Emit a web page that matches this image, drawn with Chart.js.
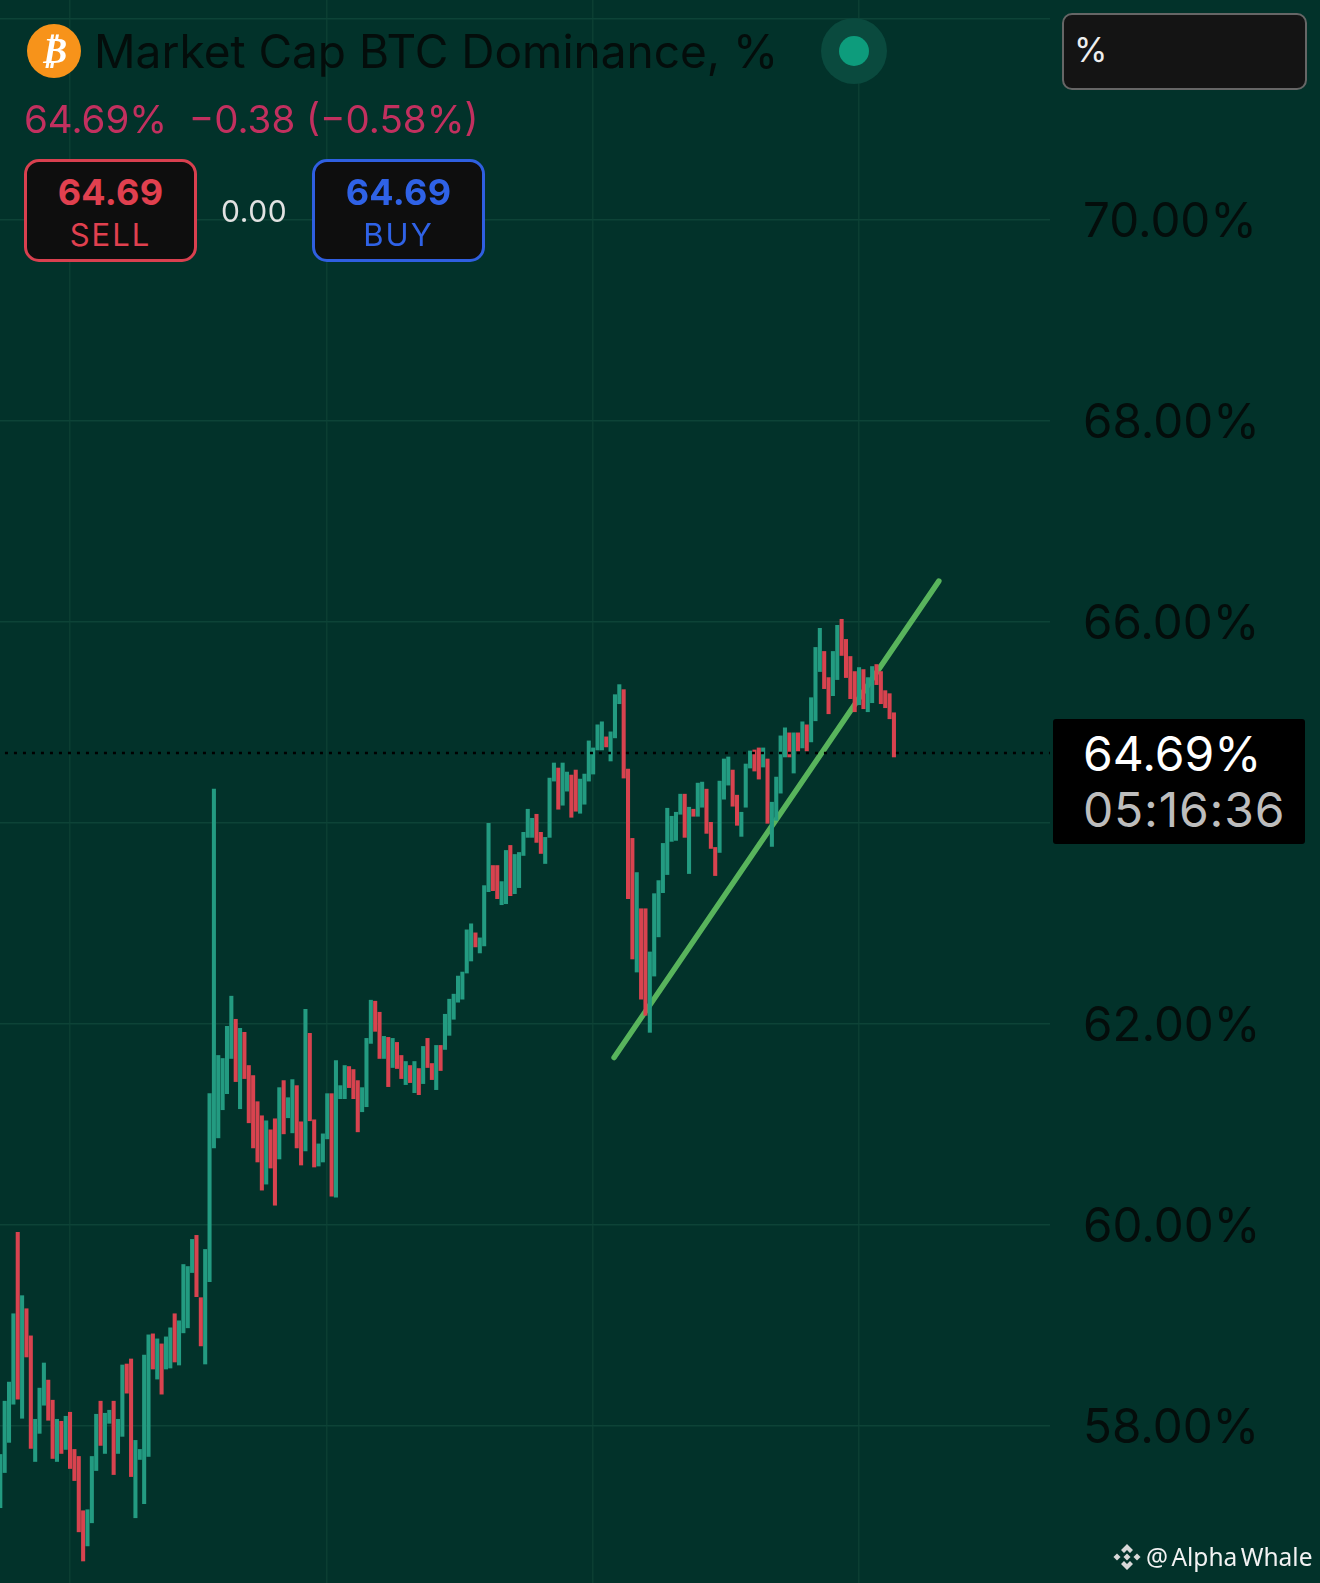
<!DOCTYPE html>
<html>
<head>
<meta charset="utf-8">
<title>Market Cap BTC Dominance</title>
<script src="https://cdn.jsdelivr.net/npm/chart.js@4"></script>
<style>
  html, body { margin: 0; padding: 0; background: #02322a; }
  #wrap { position: relative; width: 1320px; height: 1583px; overflow: hidden; font-family: Inter, "Noto Sans", sans-serif; }
  #chart { position: absolute; left: 0; top: 0; }
  .abs { position: absolute; white-space: nowrap; }
  .coin { left: 27px; top: 24px; width: 54px; height: 54px; border-radius: 50%; background: #f7931a; color: #fff; font: italic 700 36px/54px "DejaVu Sans"; text-align: center; }
  .title { left: 94px; top: 22px; font-size: 46px; line-height: 58px; color: #040d0b; }
  .change { left: 24px; top: 95px; font-size: 38.5px; line-height: 48px; color: #c2305f; }
  .halo { left: 821px; top: 18px; width: 66px; height: 66px; border-radius: 50%; background: #0a4a3e; }
  .dot { left: 839px; top: 36px; width: 30px; height: 30px; border-radius: 50%; background: #0d9c7c; }
  .trade { top: 159px; width: 167px; height: 97px; border-radius: 15px; border: 3px solid; background: #0e0e0e; text-align: center; }
  .trade b { display: block; font-size: 36px; line-height: 40px; margin-top: 10px; font-weight: 700; letter-spacing: 0.3px; }
  .trade span { display: block; font-size: 31px; line-height: 38px; margin-top: 4px; letter-spacing: 2px; }
  .sell { left: 24px; border-color: #d9404f; color: #e0404f; }
  .buy { left: 312px; border-color: #2f5fe0; color: #2f62e6; }
  .spread { left: 221px; top: 192px; font-size: 30px; line-height: 38px; color: #e2e2e2; letter-spacing: 0.6px; }
  .unit { left: 1062px; top: 13px; width: 241px; height: 73px; border: 2.5px solid #666; border-radius: 10px; background: #141414; color: #eee; font-size: 34px; line-height: 70px; }
  .unit span { margin-left: 10px; }
  .price { left: 1053px; top: 719px; width: 252px; height: 125px; background: #000; border-radius: 3px; }
  .price div { position: absolute; left: 30px; font-size: 48px; line-height: 56px; }
  .mark { left: 1146px; top: 1537px; font: 24.5px/40px "Noto Sans"; word-spacing: -3px; color: #f2f2f2; }
  .logo { left: 1113px; top: 1543px; }
</style>
</head>
<body>
<div id="wrap">
  <canvas id="chart" width="1320" height="1583"></canvas>
  <div class="abs coin">₿</div>
  <div class="abs title">Market Cap BTC Dominance, %</div>
  <div class="abs change">64.69%&nbsp; −0.38 (−0.58%)</div>
  <div class="abs halo"></div>
  <div class="abs dot"></div>
  <div class="abs trade sell"><b>64.69</b><span>SELL</span></div>
  <div class="abs spread">0.00</div>
  <div class="abs trade buy"><b>64.69</b><span>BUY</span></div>
  <div class="abs unit"><span>%</span></div>
  <div class="abs price">
    <div style="top:7px;color:#fff">64.69%</div>
    <div style="top:63px;color:#bdbdbd;letter-spacing:0.8px">05:16:36</div>
  </div>
  <svg class="abs logo" width="28" height="28" viewBox="0 0 28 28" fill="#d8d8d8">
    <path d="M14 1 L20 7 L17 10 L14 7 L11 10 L8 7 Z"/>
    <path d="M14 27 L20 21 L17 18 L14 21 L11 18 L8 21 Z"/>
    <rect x="1.5" y="11.5" width="5" height="5" transform="rotate(45 4 14)"/>
    <rect x="21.5" y="11.5" width="5" height="5" transform="rotate(45 24 14)"/>
    <rect x="11.5" y="11.5" width="5" height="5" transform="rotate(45 14 14)"/>
  </svg>
  <div class="abs mark">@ Alpha Whale</div>
</div>
<script>
// one open/close pair per bar
const barOpen = [
  57.18,57.53,57.83,58.21,59.92,58.07,59.16,58.89,57.64,57.92,
  58.20,58.45,58.25,57.64,58.04,57.76,58.13,57.76,57.69,57.15,
  56.80,57.03,57.55,58.24,57.72,58.02,58.24,57.72,57.89,58.61,
  58.66,57.08,57.66,57.22,57.69,58.91,58.46,58.81,58.56,58.57,
  59.11,58.60,58.92,58.97,59.52,59.89,59.27,58.61,59.43,60.76,
  60.86,61.14,61.30,61.65,62.04,61.15,61.91,61.58,61.48,61.22,
  61.08,60.40,60.94,61.05,60.65,61.43,61.06,60.91,61.38,61.02,
  60.73,61.90,61.04,60.58,60.62,60.85,61.30,60.27,61.25,61.25,
  61.57,61.54,61.43,61.12,61.17,61.80,62.22,62.11,61.65,61.86,
  61.56,61.81,61.68,61.39,61.58,61.31,61.55,61.40,61.85,61.60,
  61.34,61.78,61.74,61.88,62.04,62.21,62.24,62.50,62.62,62.90,
  62.70,62.77,63.31,63.57,63.57,63.18,63.19,63.77,63.29,63.35,
  63.67,63.85,63.85,64.08,63.90,63.59,63.85,64.41,64.54,64.17,
  64.31,64.47,64.52,64.09,64.18,64.41,64.48,64.72,64.72,64.85,
  64.61,64.84,65.18,65.32,64.53,63.84,62.51,63.14,63.14,61.91,
  62.47,62.86,63.30,63.48,63.81,63.82,64.08,64.28,63.49,64.13,
  64.06,64.15,64.33,64.00,63.75,63.70,64.23,64.37,64.52,64.27,
  63.86,64.15,64.54,64.72,64.74,64.55,64.63,63.76,64.02,64.29,
  64.65,64.89,64.49,64.89,64.74,64.97,64.80,65.01,65.50,65.70,
  65.44,65.26,65.42,66.02,65.82,65.65,65.50,65.17,65.52,65.10,
  65.19,65.57,65.50,65.31,65.28,65.09
];
const barClose = [
  57.71,58.24,58.43,59.11,58.26,59.29,58.68,57.77,58.06,58.37,
  58.62,58.05,57.67,58.06,57.72,58.09,57.57,57.45,56.94,56.65,
  57.16,57.69,58.11,57.80,58.12,58.15,57.51,58.06,58.60,58.32,
  57.49,57.85,57.76,58.70,58.90,58.56,58.86,58.31,58.88,58.97,
  58.63,59.04,59.60,59.58,59.85,59.28,58.79,59.75,61.30,64.33,
  61.68,61.65,61.97,62.27,61.42,61.95,61.45,61.01,60.76,60.62,
  60.34,61.03,60.56,60.19,61.36,60.90,61.26,61.44,60.76,60.59,
  62.14,61.03,60.57,60.80,60.90,61.30,60.28,61.63,61.38,61.58,
  61.36,61.25,60.92,61.36,61.85,62.23,61.92,61.65,61.87,61.37,
  61.85,61.55,61.45,61.62,61.41,61.62,61.29,61.77,61.56,61.44,
  61.78,61.53,62.09,62.24,62.29,62.47,62.51,62.93,62.99,62.76,
  62.85,63.37,63.99,63.32,63.24,63.41,63.72,63.27,63.68,63.70,
  63.90,64.13,64.04,63.80,63.69,63.85,64.44,64.59,64.13,64.59,
  64.50,64.05,64.11,64.43,64.48,64.81,64.74,64.97,65.00,64.75,
  64.90,65.27,65.37,64.44,63.24,62.64,63.50,62.24,62.08,62.71,
  63.29,63.42,63.79,64.14,64.06,64.10,64.28,63.85,64.15,64.06,
  64.39,64.40,63.89,63.74,63.47,64.41,64.63,64.65,64.16,63.97,
  64.10,64.58,64.71,64.51,64.43,64.74,63.99,64.20,64.45,64.86,
  64.94,64.65,64.89,64.71,65.00,64.71,65.24,65.74,65.93,65.33,
  65.08,65.70,65.96,65.66,65.44,65.23,65.10,65.54,65.13,65.44,
  65.55,65.37,65.18,65.14,65.03,64.65
];

const tickValues = [58, 60, 62, 64, 66, 68, 70, 72];
const tickLabels = ["58.00%", "60.00%", "62.00%", "64.00%", "66.00%", "68.00%", "70.00%", ""];
const gridBars = [16, 75, 136, 197]; // date lines, the dates themselves are cropped away

const trendX = [140.8, 215.3];
const trendY = [61.66, 66.40];
const lastPrice = 64.69;
const priceLineX = [-1, 241];

const upColor = "#239b81";
const downColor = "#d8434f";

const bars = barOpen.map((o, i) => ({ x: i, y: [Math.min(o, barClose[i]), Math.max(o, barClose[i])] }));
const barColors = barOpen.map((o, i) => (barClose[i] >= o ? upColor : downColor));

new Chart(document.getElementById("chart"), {
  data: {
    datasets: [
      {
        type: "line",
        order: -1,
        data: priceLineX.map(x => ({ x: x, y: lastPrice })),
        borderColor: "#000",
        borderWidth: 2.5,
        borderDash: [3, 6],
        pointRadius: 0
      },
      {
        type: "bar",
        order: 0,
        data: bars,
        backgroundColor: barColors,
        barThickness: 3.4,
        borderWidth: 0
      },
      {
        type: "line",
        order: 1,
        data: trendX.map((x, i) => ({ x: x, y: trendY[i] })),
        borderColor: "#58b45c",
        borderWidth: 5.5,
        borderCapStyle: "round",
        pointRadius: 0
      }
    ]
  },
  options: {
    responsive: false,
    devicePixelRatio: 1,
    animation: false,
    layout: { padding: 0 },
    plugins: { legend: { display: false }, tooltip: { enabled: false } },
    scales: {
      x: {
        type: "linear",
        offset: false,
        min: -0.07,
        max: 240.8,
        afterBuildTicks: axis => { axis.ticks = gridBars.map(v => ({ value: v })); },
        afterFit: axis => { axis.height = 0; axis.paddingLeft = 0; axis.paddingRight = 0; },
        ticks: { display: false },
        grid: { color: "#0b3e32", lineWidth: 1.5, drawTicks: false, offset: false },
        border: { display: false }
      },
      y: {
        position: "right",
        min: 56.431,
        max: 72.182,
        // keep the plot running to the very top and bottom of the page
        afterFit: axis => { axis.width = 270; axis.paddingTop = 0; axis.paddingBottom = 0; },
        afterBuildTicks: axis => { axis.ticks = tickValues.map(v => ({ value: v })); },
        ticks: {
          padding: 33,
          color: "#040d0b",
          font: { family: "Inter", size: 47.5, lineHeight: "7px" },
          // the blank first line nudges the label a few px down, like the original
          callback: v => ["", tickLabels[tickValues.indexOf(v)]]
        },
        grid: { color: "#0d4337", lineWidth: 1.5, drawTicks: false },
        border: { display: false }
      }
    }
  }
});
</script>
</body>
</html>
